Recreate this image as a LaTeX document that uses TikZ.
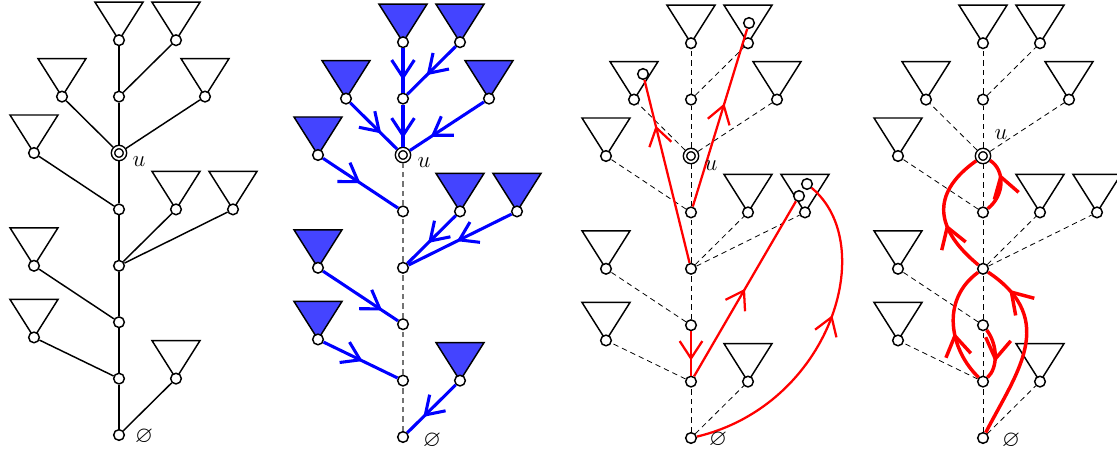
\documentclass[tikz,border=0pt]{standalone}
\usepackage{amssymb}
\usetikzlibrary{arrows.meta,decorations.markings}

\definecolor{fillblue}{RGB}{68,68,255}

\tikzset{every picture/.style={line width=1.1pt}}
\tikzset{
  vtx/.style={draw,circle,fill=white,inner sep=0pt,minimum size=8pt},
  uvtx/.style={vtx,double,double distance=1.4pt,minimum size=8.9pt,outer sep=1.8pt},
  subtree/.style={draw,line join=miter},
  dashedge/.style={draw,line width=0.6pt,dash pattern=on 4pt off 3pt},
  greyedge/.style={draw=black!55,line width=0.8pt,dash pattern=on 4pt off 3pt},
  blueflow/.style={draw=blue,line width=2.3pt,postaction={decorate,decoration={markings,
      mark=at position #1 with {\arrow{Straight Barb[length=13pt,width=17pt]}}}}},
  redflow/.style={draw=red,line width=1.7pt,postaction={decorate,decoration={markings,
      mark=at position #1 with {\arrow{Straight Barb[length=13pt,width=17pt]}}}}},
  redloop/.style={draw=red,line width=2.6pt,postaction={decorate,decoration={markings,
      mark=at position #1 with {\arrow{Straight Barb[length=15pt,width=19pt]}}}}},
  lbl/.style={inner sep=0pt,font=\LARGE},
}

\begin{document}
\begin{tikzpicture}[x=0.75pt,y=0.75pt,yscale=-1,xscale=1]
    \useasboundingbox (0,0) rectangle (1117,456);
    %Shapes: the four copies of the spine, the side vertices and their subtrees
    \foreach \p/\sx/\sy/\tf in {a/119/435/white,b/403/437/fillblue,c/691/438/white,d/983/438/white}{
      \foreach \n/\dx/\lv in {7/0/7,6r/57/7,5l/-57/6,5r/86/6,4l/-85/5,3r/57/4,3rr/114/4,2l/-85/3,1l/-85/1.73,0r/57/1}{
        \draw[subtree,fill=\tf] (\sx+\dx,\sy-\lv*56.4) -- ++(-24,-38) -- ++(48,0) -- cycle;
        \node[vtx] (\p\n) at (\sx+\dx,\sy-\lv*56.4) {};
      }
      \foreach \k in {0,1,2,3,4,6}
        \node[vtx] (\p\k) at (\sx,\sy-\k*56.4) {};
      \node[uvtx] (\p5) at (\sx,\sy-5*56.4) {};
    }
    %Straight Lines: first copy
    \foreach \s/\t in {0/1,1/2,2/3,3/4,4/5,5/6,6/7,6/6r,5/5l,5/5r,4/4l,3/3r,3/3rr,2/2l,1/1l,0/0r}
      \draw (a\s) -- (a\t);
    %Straight Lines: third and fourth copy, dashed
    \foreach \p in {c,d}
      \foreach \s/\t in {0/1,1/2,2/3,3/4,4/5,5/6,6/7,6/6r,5/5l,5/5r,4/4l,3/3r,3/3rr,2/2l,1/1l,0/0r}
        \path[dashedge] (\p\s) -- (\p\t);
    %Second copy: flows into the spine
    \foreach \s/\t in {0/1,1/2,2/3,3/4,4/5}
      \path[greyedge] (b\s) -- (b\t);
    \path[blueflow=0.72] (b7) -- (b6);
    \path[blueflow=0.8] (b6) -- (b5);
    \path[blueflow=0.6] (b6r) -- (b6);
    \path[blueflow=0.66] (b5l) -- (b5);
    \path[blueflow=0.72] (b5r) -- (b5);
    \path[blueflow=0.5] (b4l) -- (b4);
    \path[blueflow=0.57] (b3r) -- (b3);
    \path[blueflow=0.53] (b3rr) -- (b3);
    \path[blueflow=0.79] (b2l) -- (b2);
    \path[blueflow=0.53] (b1l) -- (b1);
    \path[blueflow=0.67] (b0r) -- (b0);
    %Third copy: extra vertices inside the subtrees
    \node[vtx] (c6rt) at (749,23) {};
    \node[vtx] (c5lt) at (643,74) {};
    \node[vtx] (c3rrt) at (807,184) {};
    \node[vtx] (c3rrs) at (799,196) {};
    \path[redflow=0.75] (c3) -- (c5lt);
    \path[redflow=0.58] (c4) -- (c6rt);
    \path[redflow=0.66] (c2) -- (c1);
    \path[redflow=0.5] (c1) -- (c3rrs);
    \path[redflow=0.58] (c0) .. controls (830,405) and (880,245) .. (c3rrt);
    %Fourth copy: loops along the spine
    \path[redloop=0.85] (d0) .. controls (1015,375) and (1060,320) .. (d3);
    \path[redloop=0.41] (d3) .. controls (930,225) and (935,190) .. (d5);
    \path[redloop=0.7] (d4) .. controls (1005,195) and (1005,170) .. (d5);
    \path[redloop=0.43] (d1) .. controls (950,350) and (940,300) .. (d3);
    \path[redloop=0.66] (d2) .. controls (998,345) and (998,368) .. (d1);
    % Text Node
    \node[lbl] (ua) at (139,162) {$u$};
    \node[lbl] (ub) at (424,163) {$u$};
    \node[lbl] (uc) at (711,166) {$u$};
    \node[lbl] (ud) at (1001,135) {$u$};
    % Text Node
    \node[lbl] (ea) at (144,437) {$\varnothing$};
    \node[lbl] (eb) at (432,441) {$\varnothing$};
    \node[lbl] (ec) at (718,440) {$\varnothing$};
    \node[lbl] (ed) at (1011,441) {$\varnothing$};
\end{tikzpicture}
\end{document}
